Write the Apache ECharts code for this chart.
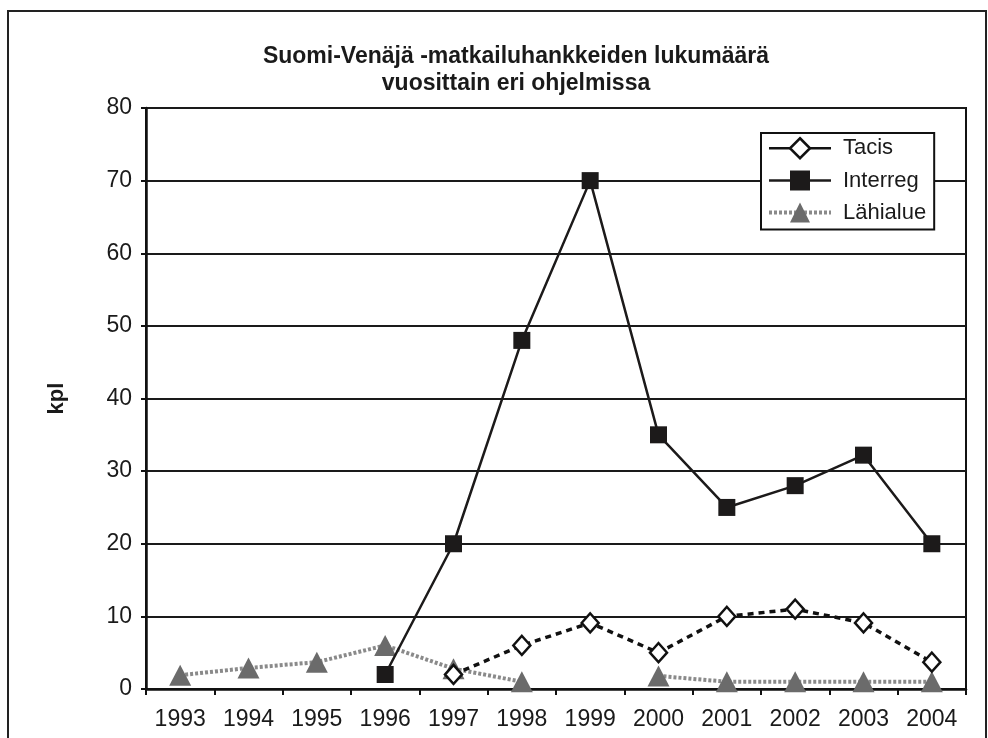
<!DOCTYPE html>
<html>
<head>
<meta charset="utf-8">
<title>Suomi-Venäjä -matkailuhankkeet</title>
<script src="https://cdn.jsdelivr.net/npm/echarts@6/dist/echarts.min.js"></script>
<style>
  html, body { margin: 0; padding: 0; background: #fff; }
  #main { width: 988px; height: 738px; }
</style>
</head>
<body>
<div id="main"></div>
<script>
// vuodet ja hankkeiden määrät
var years = ['1993', '1994', '1995', '1996', '1997', '1998', '1999', '2000', '2001', '2002', '2003', '2004'];
var tacis = [null, null, null, null, 2, 6, 9.1, 5, 10, 11, 9.1, 3.7];
var interreg = [null, null, null, 2, 20, 48, 70, 35, 25, 28, 32.2, 20];
var lahialue = [1.9, 2.9, 3.7, 6, 2.8, 1, null, 1.8, 1, 1, 1, 1];
var yTicks = [0, 80, 10];

var myChart = echarts.init(document.getElementById('main'));
var font = 'Liberation Sans, Arial, sans-serif';

var option = {
  animation: false,
  textStyle: { fontFamily: font },
  title: {
    text: 'Suomi-Venäjä -matkailuhankkeiden lukumäärä\nvuosittain eri ohjelmissa',
    left: 511,
    top: 38,
    textAlign: 'center',
    textStyle: { fontFamily: font, fontSize: 23, fontWeight: 'bold', color: '#1a1a1a', lineHeight: 27 }
  },
  graphic: [{
    type: 'rect',
    shape: { x: 8, y: 11, width: 978, height: 740 },
    style: { fill: 'none', stroke: '#222', lineWidth: 2 },
    z: -1
  }],
  legend: {
    orient: 'vertical',
    left: 761,
    top: 133,
    width: 171,
    padding: [4, 8, 6, 6],
    itemGap: 10,
    itemWidth: 62,
    itemHeight: 25,
    borderColor: '#111',
    borderWidth: 2,
    backgroundColor: '#fff',
    textStyle: { fontFamily: font, fontSize: 22, color: '#1a1a1a', padding: [0, 0, 0, 7] },
    data: [
      { name: 'Tacis', lineStyle: { type: 'solid', width: 2.5 }, itemStyle: { borderWidth: 2.5 } },
      { name: 'Interreg', lineStyle: { width: 2.5 } },
      { name: 'Lähialue', lineStyle: { width: 4 } }
    ]
  },
  grid: {
    left: 146, right: 22, top: 108, bottom: 49,
    show: true, borderColor: '#111', borderWidth: 2, backgroundColor: 'transparent'
  },
  xAxis: {
    type: 'category',
    data: years,
    boundaryGap: true,
    axisLine: { lineStyle: { color: '#111', width: 2.5 } },
    axisTick: { show: true, length: 6, lineStyle: { color: '#111', width: 2 } },
    axisLabel: { fontFamily: font, fontSize: 23, color: '#1a1a1a', margin: 19 }
  },
  yAxis: {
    type: 'value',
    min: yTicks[0],
    max: yTicks[1],
    interval: yTicks[2],
    name: 'kpl',
    nameLocation: 'middle',
    nameGap: 78,
    nameTextStyle: { fontFamily: font, fontSize: 22, fontWeight: 'bold', color: '#1a1a1a' },
    axisLine: { show: true, lineStyle: { color: '#111', width: 2.5 } },
    axisTick: { show: true, length: 5, lineStyle: { color: '#111', width: 2 } },
    axisLabel: { fontFamily: font, fontSize: 23, color: '#1a1a1a', margin: 14 },
    splitLine: { show: true, lineStyle: { color: '#1a1a1a', width: 2 } }
  },
  series: [
    {
      name: 'Tacis',
      type: 'line',
      data: tacis,
      symbol: 'diamond',
      symbolSize: [17, 19],
      itemStyle: { color: '#fff', borderColor: '#111', borderWidth: 2.5 },
      lineStyle: { color: '#111', width: 3.5, type: [6, 5] },
      z: 3
    },
    {
      name: 'Interreg',
      type: 'line',
      data: interreg,
      symbol: 'rect',
      symbolSize: 17,
      itemStyle: { color: '#1c1a1a', borderWidth: 0 },
      lineStyle: { color: '#1c1a1a', width: 2.5 },
      z: 4
    },
    {
      name: 'Lähialue',
      type: 'line',
      data: lahialue,
      connectNulls: false,
      symbol: 'triangle',
      symbolSize: [22, 21],
      itemStyle: { color: '#6b6b6b', borderWidth: 0 },
      lineStyle: { color: '#8a8a8a', width: 4, type: [3, 2] },
      z: 2
    }
  ]
};

myChart.setOption(option);
</script>
</body>
</html>
